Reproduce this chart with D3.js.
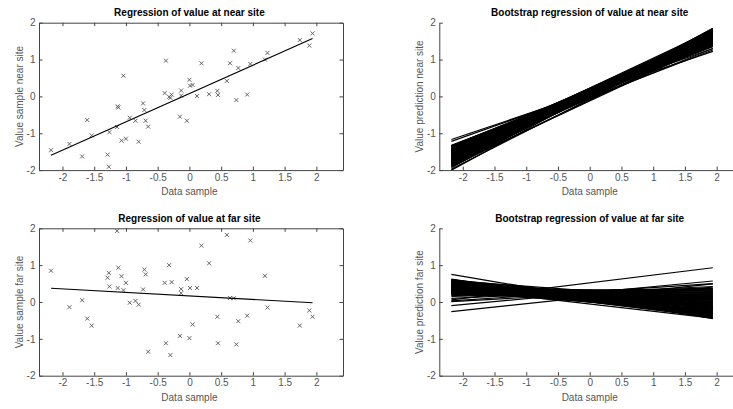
<!DOCTYPE html>
<html>
<head>
<meta charset="utf-8">
<script src="https://cdn.jsdelivr.net/npm/d3@7"></script>
<style>
    body { margin: 0; background: #fff; }
    text { font-family: "Liberation Sans", Arial, sans-serif; }
</style>
</head>
<body>
<div id="chart"></div>
<script>
//tick labels
var xTicks = [-2, -1.5, -1, -0.5, 0, 0.5, 1, 1.5, 2];
var yTicks = [-2, -1, 0, 1, 2];

//panel texts
var titles = ["Regression of value at near site", "Bootstrap regression of value at near site",
              "Regression of value at far site", "Bootstrap regression of value at far site"];
var yLabels = ["Value sample near site", "Value prediction near site",
               "Value sample far site", "Value prediction far site"];

//data sample (shared x values)
var sampleX = [-2.18, -1.89, -1.69, -1.61, -1.54, -1.29, -1.27, -1.26, -1.14, -1.13,
               -1.12, -1.07, -1.04, -1.00, -0.94, -0.85, -0.80, -0.73, -0.71, -0.69,
               -0.65, -0.39, -0.37, -0.32, -0.30, -0.28, -0.15, -0.13, -0.13, -0.04,
               0.00, 0.01, 0.05, 0.12, 0.19, 0.31, 0.44, 0.45, 0.59, 0.64,
               0.70, 0.74, 0.77, 0.91, 0.96, 1.19, 1.23, 1.74, 1.89, 1.94];

//value at near site
var nearY = [-1.46, -1.29, -1.63, -0.64, -1.06, -1.58, -1.91, -0.97, -0.83, -0.27,
             -0.30, -1.20, 0.56, -1.15, -0.58, -0.66, -1.23, -0.19, -0.37, -0.66,
             -0.82, 0.09, 0.97, -0.01, -0.04, 0.05, -0.55, 0.16, 0.02, -0.66,
             0.45, 0.29, 0.31, 0.01, 0.90, 0.06, 0.15, 0.04, 0.42, 0.90,
             1.24, -0.10, 0.77, 0.05, 0.88, 1.00, 1.18, 1.53, 1.38, 1.71];

//value at far site
var farY = [0.85, -0.14, 0.05, -0.45, -0.64, 0.66, 0.79, 0.42, 1.93, 0.38,
            0.93, 0.70, 0.32, 0.52, -0.02, 0.03, -0.07, 0.34, 0.88, 0.75,
            -1.35, 0.52, -1.12, 1.00, -1.44, 0.54, -0.92, 0.35, 0.24, 0.62,
            -0.98, 0.38, -0.61, 0.38, 1.53, 1.05, -0.40, -1.12, 1.82, 0.11,
            0.10, -1.15, -0.52, -0.37, 1.67, 0.71, -0.15, -0.64, -0.23, -0.40];

//fitted lines [intercept, slope]
var nearFit = [0.077, 0.769];
var farFit = [0.164, -0.095];

//bootstrap lines: value at left end and right end of the sample range
var nearBootLeft = [-1.17, -1.22, -1.33, -1.36, -1.38, -1.40, -1.42, -1.44, -1.45, -1.47,
                    -1.48, -1.50, -1.51, -1.52, -1.54, -1.55, -1.56, -1.57, -1.58, -1.59,
                    -1.60, -1.61, -1.62, -1.63, -1.64, -1.65, -1.66, -1.67, -1.68, -1.69,
                    -1.70, -1.71, -1.72, -1.73, -1.74, -1.75, -1.77, -1.78, -1.79, -1.80,
                    -1.82, -1.84, -1.86, -1.90, -1.93, -1.97, -2.00, -1.58, -1.50, -1.88,
                    -1.45, -1.40, -1.50, -1.35, -1.55, -1.62, -1.70, -1.75, -1.80, -1.85,
                    -1.65, -1.60, -1.52, -1.42, -1.38, -1.48, -1.72, -1.78, -1.83, -1.68,
                    -1.57, -1.46, -1.34, -1.64, -1.76, -1.81, -1.88, -1.92, -1.54, -1.44];
var nearBootRight = [1.22, 1.30, 1.38, 1.42, 1.35, 1.46, 1.40, 1.50, 1.44, 1.52,
                     1.47, 1.55, 1.49, 1.58, 1.52, 1.60, 1.55, 1.62, 1.57, 1.53,
                     1.64, 1.59, 1.66, 1.56, 1.61, 1.68, 1.63, 1.70, 1.58, 1.65,
                     1.72, 1.67, 1.62, 1.74, 1.69, 1.76, 1.71, 1.78, 1.66, 1.73,
                     1.80, 1.75, 1.82, 1.50, 1.84, 1.62, 1.85, 1.30, 1.26, 1.44,
                     1.70, 1.62, 1.75, 1.55, 1.80, 1.45, 1.40, 1.52, 1.55, 1.60,
                     1.50, 1.72, 1.65, 1.58, 1.50, 1.68, 1.78, 1.70, 1.68, 1.75,
                     1.69, 1.62, 1.46, 1.44, 1.60, 1.64, 1.72, 1.78, 1.40, 1.36];
var farBootLeft = [0.75, 0.62, 0.60, 0.58, 0.57, 0.55, 0.54, 0.52, 0.51, 0.50,
                   0.49, 0.48, 0.47, 0.46, 0.45, 0.44, 0.43, 0.42, 0.41, 0.40,
                   0.39, 0.38, 0.37, 0.36, 0.35, 0.34, 0.33, 0.32, 0.31, 0.30,
                   0.28, 0.27, 0.26, 0.25, 0.24, 0.23, 0.22, 0.21, 0.15, 0.10,
                   0.06, 0.03, 0.01, -0.10, -0.26,
                   0.55, 0.50, 0.45, 0.60, 0.58, 0.40, 0.35, 0.30, 0.52, 0.48,
                   0.42, 0.38, 0.33, 0.28, 0.25, 0.22, 0.20, 0.18, 0.45, 0.53,
                   0.56, 0.40, 0.36, 0.31, 0.26, 0.61, 0.47, 0.43, 0.34, 0.29];
var farBootRight = [-0.45, -0.42, -0.30, -0.38, -0.20, -0.33, -0.25, -0.40, -0.15, -0.28,
                    -0.10, -0.22, -0.35, -0.05, -0.18, -0.12, 0.00, -0.25, -0.08, 0.05,
                    -0.15, 0.10, -0.02, 0.15, -0.30, 0.08, 0.20, -0.06, 0.25, 0.12,
                    0.02, 0.30, 0.18, -0.10, 0.35, 0.22, 0.37, 0.10, 0.33, 0.42,
                    0.93, 0.50, 0.40, 0.57, 0.49,
                    0.00, 0.10, 0.15, -0.10, 0.05, 0.25, 0.30, 0.35, -0.35, -0.42,
                    -0.38, -0.44, -0.20, -0.25, 0.05, -0.05, 0.28, 0.20, -0.30, -0.18,
                    -0.26, -0.12, 0.02, 0.14, 0.24, -0.36, -0.02, 0.06, -0.14, -0.04];

function init() {
    var w = 733;
    var h = 409;
    var boxW = 304;
    var boxH = 147.4;
    var xDomain = [-2.37, 2.42];
    var axisColor = "#444";
    var textColor = "#555";

    var svg = d3.select("#chart")
                .append("svg")
                .attr("width", w)
                .attr("height", h);

    function fmt(d) { return String(d); }

    //draw one axes with title, axis labels and optional box
    function drawPanel(left, top, idx, boxed) {
        var x = d3.scaleLinear().domain(xDomain).range([left, left + boxW]);
        var y = d3.scaleLinear().domain([-2, 2]).range([top + boxH, top]);
        var g = svg.append("g");

        g.append("g")
            .attr("transform", "translate(0," + y(-2) + ")")
            .call(d3.axisBottom(x).tickValues(xTicks).tickFormat(fmt)
                .tickSizeInner(-3.5).tickSizeOuter(0).tickPadding(3.5));
        g.append("g")
            .attr("transform", "translate(" + x.range()[0] + ",0)")
            .call(d3.axisLeft(y).tickValues(yTicks).tickFormat(fmt)
                .tickSizeInner(-3.5).tickSizeOuter(0).tickPadding(3.5));

        if (boxed) {
            g.append("g")
                .attr("transform", "translate(0," + y(2) + ")")
                .call(d3.axisTop(x).tickValues(xTicks).tickFormat("")
                    .tickSizeInner(-3.5).tickSizeOuter(0));
            g.append("g")
                .attr("transform", "translate(" + x.range()[1] + ",0)")
                .call(d3.axisRight(y).tickValues(yTicks).tickFormat("")
                    .tickSizeInner(-3.5).tickSizeOuter(0));
        }

        g.selectAll(".domain, .tick line").attr("stroke", axisColor);
        g.selectAll(".tick text")
            .attr("fill", textColor)
            .style("font-size", "10px")
            .style("font-family", "'Liberation Sans', Arial, sans-serif");

        //title
        g.append("text")
            .attr("x", x(0))
            .attr("y", top - 6.5)
            .attr("text-anchor", "middle")
            .style("font-size", "10px")
            .style("font-weight", "bold")
            .attr("fill", "#000")
            .text(titles[idx]);

        //x label
        g.append("text")
            .attr("x", x(0))
            .attr("y", y(-2) + 25)
            .attr("text-anchor", "middle")
            .style("font-size", "10px")
            .attr("fill", textColor)
            .text("Data sample");

        //y label
        g.append("text")
            .attr("transform", "translate(" + (x.range()[0] - 16.5) + "," + (top + boxH / 2) + ") rotate(-90)")
            .attr("text-anchor", "middle")
            .style("font-size", "10px")
            .attr("fill", textColor)
            .text(yLabels[idx]);

        return { g: g, x: x, y: y };
    }

    var ext = d3.extent(sampleX);

    //scatter with fitted line
    function drawScatter(p, ys, fit) {
        var pts = sampleX.map(function(d, i) { return [d, ys[i]]; });
        p.g.selectAll("path.mark")
            .data(pts)
            .enter()
            .append("path")
            .attr("class", "mark")
            .attr("transform", function(d) {
                return "translate(" + p.x(d[0]) + "," + p.y(d[1]) + ")";
            })
            .attr("d", "M-2,-2L2,2M-2,2L2,-2")
            .attr("stroke", "#555")
            .attr("stroke-width", 0.9)
            .attr("fill", "none");

        var line = d3.line()
            .x(function(d) { return p.x(d); })
            .y(function(d) { return p.y(fit[0] + fit[1] * d); });
        p.g.append("path")
            .attr("d", line(ext))
            .attr("stroke", "#000")
            .attr("stroke-width", 1.1)
            .attr("fill", "none");
    }

    //bundle of bootstrap lines
    function drawBoot(p, lefts, rights) {
        var segs = lefts.map(function(d, i) { return [[ext[0], d], [ext[1], rights[i]]]; });
        var line = d3.line()
            .x(function(d) { return p.x(d[0]); })
            .y(function(d) { return p.y(d[1]); });
        p.g.selectAll("path.boot")
            .data(segs)
            .enter()
            .append("path")
            .attr("class", "boot")
            .attr("d", line)
            .attr("stroke", "#000")
            .attr("stroke-width", 1.2)
            .attr("fill", "none");
    }

    var p1 = drawPanel(39, 22.7, 0, true);
    drawScatter(p1, nearY, nearFit);

    var p2 = drawPanel(439.3, 22.7, 1, false);
    drawBoot(p2, nearBootLeft, nearBootRight);

    var p3 = drawPanel(39, 228.3, 2, true);
    drawScatter(p3, farY, farFit);

    var p4 = drawPanel(439.3, 228.3, 3, false);
    drawBoot(p4, farBootLeft, farBootRight);
}

window.onload = init;
</script>
</body>
</html>
